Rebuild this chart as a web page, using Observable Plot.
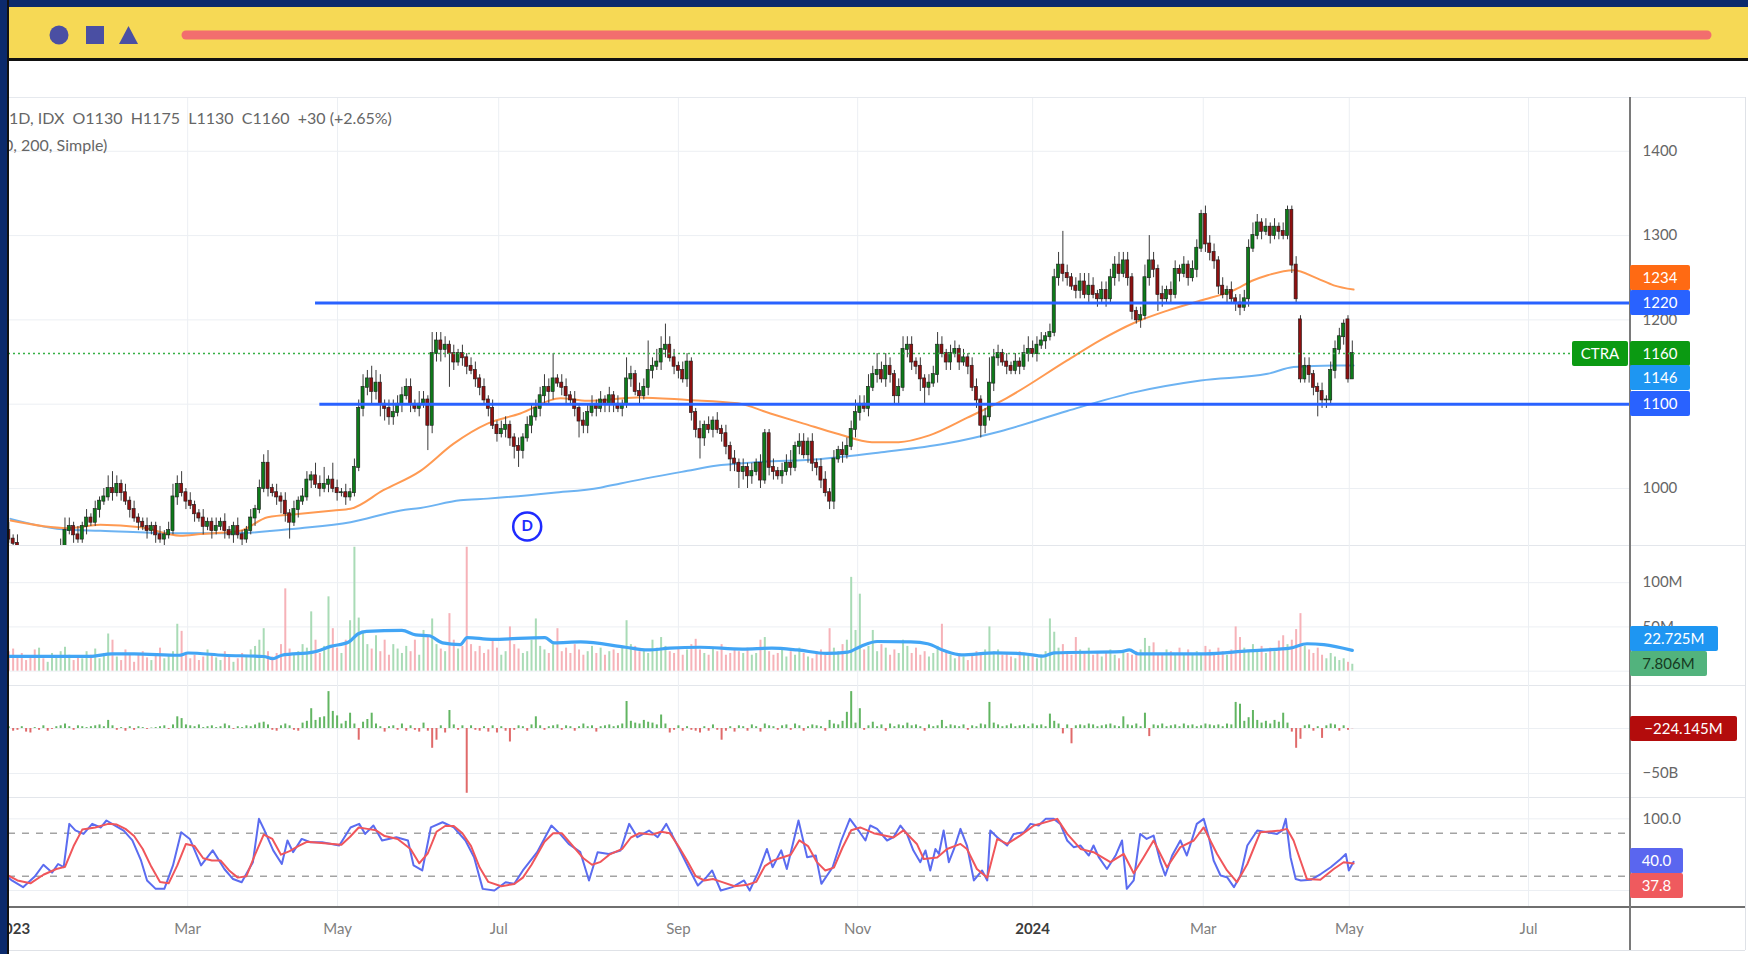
<!DOCTYPE html>
<html><head><meta charset="utf-8">
<script src="https://cdn.jsdelivr.net/npm/d3@7"></script>
<script src="https://cdn.jsdelivr.net/npm/@observablehq/plot@0.6"></script>
<style>
html,body{margin:0;padding:0}
body{width:1748px;height:954px;overflow:hidden;background:#0b2a6c;position:relative;font-family:Lato,"Open Sans",sans-serif}
#topbar{position:absolute;left:9px;top:7px;width:1739px;height:51px;background:#f6d955;border-bottom:3px solid #111}
#leftstrip{position:absolute;left:0;top:0;width:7px;height:954px;background:#0b2a6c;border-right:2px solid #111;z-index:20}
#chart{position:absolute;left:8px;top:61px;width:1740px;height:893px;background:#fff;overflow:hidden}
.hl{position:absolute;height:1px;background:#e9ecf1;left:0}
.tag{position:absolute;height:25px;line-height:25px;text-align:center;font-size:15px;border-radius:2px;color:#fff;z-index:5}
.hdr{position:absolute;white-space:pre;font-size:16px;color:#666}
</style></head>
<body>
<div id="topbar">
  <svg width="1739" height="51" style="position:absolute;left:0;top:0">
    <circle cx="50" cy="28" r="9.5" fill="#4a4fa3"/>
    <rect x="77" y="19" width="18" height="18" fill="#4a4fa3"/>
    <polygon points="110,37 129,37 119.5,19" fill="#4a4fa3"/>
    <line x1="177" y1="28" x2="1698" y2="28" stroke="#f26e6e" stroke-width="9" stroke-linecap="round"/>
  </svg>
</div>
<div id="leftstrip"></div>
<div id="chart"></div>
<script>
// ---------------- DATA (daily bars, Jan 2023 - May 2024, CTRA 1D IDX) ----------------
const close = [
950,940,935,925,915,910,905,900,905,900,
910,915,920,930,950,955,945,940,955,965,
960,975,985,990,1000,995,1005,995,985,975,
965,960,955,950,955,945,940,945,950,990,
1005,995,985,980,970,965,955,960,950,955,
960,950,945,955,945,940,950,965,975,1000,
1030,1000,995,990,985,970,960,975,985,990,
1010,1015,1005,1000,1005,1010,1000,995,995,990,
995,1025,1095,1120,1130,1115,1125,1100,1095,1085,
1090,1100,1110,1120,1100,1095,1100,1105,1075,1160,
1175,1165,1170,1160,1150,1160,1155,1145,1140,1130,
1120,1105,1095,1075,1065,1070,1075,1060,1050,1045,
1060,1075,1085,1095,1110,1120,1115,1130,1125,1120,
1110,1105,1095,1080,1075,1090,1100,1095,1105,1100,
1110,1100,1095,1100,1130,1135,1115,1110,1120,1140,
1145,1150,1165,1170,1155,1145,1140,1130,1150,1090,
1070,1060,1075,1070,1080,1070,1065,1050,1035,1030,
1020,1025,1015,1020,1030,1010,1065,1025,1020,1015,
1020,1030,1025,1050,1055,1040,1055,1030,1025,1010,
995,985,1035,1045,1040,1050,1070,1090,1100,1095,
1120,1135,1140,1130,1145,1135,1110,1120,1165,1170,
1150,1145,1130,1120,1125,1135,1170,1160,1150,1160,
1165,1150,1155,1145,1120,1105,1075,1085,1125,1155,
1160,1150,1145,1140,1150,1145,1160,1165,1160,1170,
1175,1180,1185,1250,1265,1255,1250,1240,1235,1245,
1230,1240,1230,1225,1235,1225,1250,1265,1255,1270,
1250,1210,1200,1205,1250,1270,1260,1230,1225,1235,
1230,1260,1255,1265,1250,1260,1285,1325,1290,1280,
1270,1240,1230,1235,1225,1220,1215,1225,1285,1300,
1315,1305,1310,1300,1310,1305,1300,1330,1265,1225,
1130,1145,1135,1120,1115,1105,1105,1140,1165,1180,
1195,1130,1160];
const open = [
960,950,940,935,925,915,910,905,900,905,
900,910,915,920,930,950,955,945,940,955,
965,960,975,985,990,1000,995,1005,995,985,
975,965,960,955,950,955,945,940,945,950,
990,1005,995,985,980,970,965,955,960,950,
955,960,950,945,955,945,940,950,965,975,
1000,1030,1000,995,990,985,970,960,975,985,
990,1010,1015,1005,1000,1005,1010,1000,995,995,
990,995,1025,1095,1120,1130,1115,1125,1100,1095,
1085,1090,1100,1110,1120,1100,1095,1100,1105,1075,
1160,1175,1165,1170,1160,1150,1160,1155,1145,1140,
1130,1120,1105,1095,1075,1065,1070,1075,1060,1050,
1045,1060,1075,1085,1095,1110,1120,1115,1130,1125,
1120,1110,1105,1095,1080,1075,1090,1100,1095,1105,
1100,1110,1100,1095,1100,1130,1135,1115,1110,1120,
1140,1145,1150,1165,1170,1155,1145,1140,1130,1150,
1090,1070,1060,1075,1070,1080,1070,1065,1050,1035,
1030,1020,1025,1015,1020,1030,1010,1065,1025,1020,
1015,1020,1030,1025,1050,1055,1040,1055,1030,1025,
1010,995,985,1035,1045,1040,1050,1070,1090,1100,
1095,1120,1135,1140,1130,1145,1135,1110,1120,1165,
1170,1150,1145,1130,1120,1125,1135,1170,1160,1150,
1160,1165,1150,1155,1145,1120,1105,1075,1085,1125,
1155,1160,1150,1145,1140,1150,1145,1160,1165,1160,
1170,1175,1180,1185,1250,1265,1255,1250,1240,1235,
1245,1230,1240,1230,1225,1235,1225,1250,1265,1255,
1270,1250,1210,1200,1205,1250,1270,1260,1230,1225,
1235,1230,1260,1255,1265,1250,1260,1285,1325,1290,
1280,1270,1240,1230,1235,1225,1220,1215,1225,1285,
1300,1315,1305,1310,1300,1310,1305,1300,1330,1265,
1200,1130,1145,1135,1120,1115,1105,1105,1140,1165,
1180,1200,1130];
const upWick = [
5,10,5,10,5,5,10,5,5,10, 5,10,5,10,15,10,5,10,5,10, 5,10,5,10,15,20,10,5,10,5,
10,5,5,10,5,5,10,5,10,15, 10,15,5,10,5,5,10,5,5,10, 5,10,5,5,10,5,5,10,5,10,
10,15,5,10,5,10,5,10,5,10, 10,5,15,10,20,5,20,10,5,10, 5,10,10,15,10,15,15,10,5,10,
15,10,10,10,10,5,15,10,5,25, 10,10,10,5,10,5,10,5,10,10, 5,10,5,10,5,10,10,5,5,10,
5,10,15,10,10,15,10,30,5,10, 10,5,10,5,10,10,10,5,10,5, 10,5,10,5,25,10,5,10,10,35,
10,15,15,25,10,10,5,10,10,5, 5,10,5,10,5,10,5,10,5,10, 5,10,5,10,5,10,5,5,10,5,
10,10,15,5,10,10,5,10,5,10, 10,5,10,5,10,10,10,15,10,10, 15,10,20,10,15,10,5,10,15,10,
10,5,10,5,10,10,15,10,5,10, 10,5,10,5,10,10,5,10,30,10, 10,5,10,5,10,5,10,15,10,10,
10,5,10,10,15,40,10,5,10,10, 10,15,10,5,10,10,10,10,15,10, 10,5,5,10,15,30,10,5,10,5,
10,10,5,10,5,10,10,5,10,10, 10,5,10,5,10,5,10,10,10,15, 10,5,10,5,10,5,10,5,5,10,
5,10,10,5,5,10,5,10,10,10, 5,5,15];
const lowWick = [
10,5,10,5,10,5,5,10,5,10, 5,5,10,5,10,5,10,5,5,10, 5,5,10,5,5,10,5,10,5,10,
5,10,5,10,5,10,5,10,5,5, 10,5,10,5,10,5,10,5,10,5, 5,10,5,10,5,10,5,5,10,5,
5,10,5,10,15,10,20,5,10,5, 5,10,5,10,5,10,5,10,5,10, 5,5,5,10,10,15,10,15,15,10,
10,5,10,5,10,5,10,5,30,10, 10,15,10,40,10,5,10,10,5,10, 10,5,10,5,10,5,10,10,15,20,
10,5,10,5,10,10,15,10,5,10, 10,5,10,20,10,10,5,10,5,10, 10,10,5,10,5,10,5,10,5,10,
10,5,10,10,5,10,10,5,10,10, 10,25,10,5,10,5,10,10,15,10, 20,10,15,10,5,10,5,10,10,5,
10,5,10,5,10,5,10,10,10,10, 5,10,10,5,10,5,5,10,10,5, 10,5,10,5,10,10,10,10,5,10,
10,10,15,20,10,5,10,5,10,10, 5,10,5,10,5,10,15,10,5,10, 10,5,10,5,5,10,5,10,5,10,
5,10,5,5,10,10,10,5,10,10, 5,10,5,10,5,10,5,10,10,5, 10,10,5,10,5,10,10,20,10,5,
10,5,10,5,10,5,10,5,10,10, 10,10,5,10,5,10,10,5,10,5, 5,10,5,10,5,10,5,5,10,5,
5,5,10,10,30,10,10,5,10,5, 10,5,0];
// volume in millions of shares
const volume = [
18,22,25,15,20,12,16,24,26,14, 10,20,15,22,27,18,12,16,14,22, 18,25,14,20,42,35,16,12,24,20,
10,18,22,15,12,20,26,14,18,22, 53,45,20,14,18,12,16,24,20,15, 12,22,18,10,14,20,16,24,28,35,
48,22,16,20,30,93,25,18,22,30, 26,67,35,20,28,84,48,26,20,35, 57,140,60,45,30,25,40,22,35,18,
30,25,20,28,22,35,18,46,40,59, 30,25,22,65,35,25,28,140,30,22, 28,20,24,35,26,18,22,50,30,25,
20,22,35,59,28,24,20,30,48,22, 26,20,30,24,18,22,28,20,26,18, 22,24,20,26,57,30,28,22,24,20,
35,26,38,28,22,20,26,18,24,30, 36,24,20,18,26,22,30,18,20,24, 22,20,26,18,20,35,38,22,18,20,
24,16,22,18,26,20,16,14,22,24, 18,48,26,22,30,35,106,46,87,24, 28,46,22,30,26,18,24,20,35,28,
20,26,18,22,16,20,28,53,22,18, 14,18,16,12,20,22,18,24,50,22, 24,18,20,16,14,22,18,20,16,14,
18,22,59,44,26,30,22,18,38,24, 20,26,18,22,16,20,24,18,14,22, 20,18,22,24,37,28,32,20,18,24,
22,18,26,20,24,18,22,20,28,24, 20,26,22,18,24,50,38,26,22,30, 24,28,20,26,22,34,40,30,35,47,
65,28,24,20,26,18,14,20,16,12, 14,10,7.8];
// money-flow histogram in billions
const flow = [
3,2,-3,-2,2,-4,-5,1,-2,3, -3,-1,2,3,5,2,-2,3,2,1, 2,3,4,2,9,3,-2,1,-3,2,
-2,2,1,-1,0.5,1,2,3,-1,4, 13,11,4,3,2,4,1,2,3,1, 2,5,3,-1,2,1,3,2,4,6,
7,4,-2,-3,3,5,3,-2,-3,6, 8,22,9,12,13,41,19,14,5,8, 17,5,-13,7,10,17,5,2,-4,2,
3,-2,5,-3,3,-2,-4,6,-3,-22, -13,3,-5,20,4,-2,3,-72,3,-2, -3,2,-4,3,-5,2,-3,-15,-2,3,
2,-3,4,13,3,-2,2,3,4,-2, 3,2,-3,2,5,2,3,-4,2,3, 4,2,3,5,30,8,6,5,9,7,
6,4,15,5,-5,-2,3,-3,2,-2, -3,-5,2,-3,4,-2,-13,-3,2,-4, 3,2,-3,4,2,-4,5,3,2,-2,
3,4,-2,5,3,-3,2,4,3,2, -3,9,5,4,8,18,41,6,22,-2, 3,7,2,4,-3,5,2,4,3,6,
3,4,2,-3,4,2,3,9,2,4, 3,2,4,-2,3,2,5,4,29,6, 4,2,3,5,2,3,4,2,5,3,
4,2,16,8,5,-6,4,-17,3,4, 3,5,4,2,3,4,5,3,2,13, 4,3,5,2,17,-9,4,3,5,2,
3,4,2,5,3,4,2,3,5,4, 3,4,2,5,4,29,27,8,12,20, 9,6,8,5,9,7,17,6,-4,-22,
-12,3,4,-3,2,-11,3,5,4,-3, 3,-2,-0.22];
// moving averages (day index, value)
const ma50Day = [1.4,14.6,22.2,31.5,40.7,45.4,54.6,60.9,68.5,76.2,80.1,87.7,96.3,103.9,111.8,119.4,128.7,134.9,146.5,158.1,169.7,177.3,185,192.8,200.8,207,214.1,222.9,231.9,246,253.7,261.3,269.2,276.9,284.5,289.1,292.4,298.4,304,307.7,312.3];
const ma50Val = [962,953,957,954,944,946,950,966,970,974,976,998,1021,1053,1077,1089,1107,1104,1108,1105,1101,1089,1077,1065,1055,1055,1063,1084,1107,1152,1176,1196,1211,1223,1235,1247,1253,1259,1249,1241,1236];
const ma200Day = [1.4,14.6,22.2,37.7,53,68.5,80.1,91.7,96.3,105.5,111.8,127.1,137.9,142.6,158.1,164.6,173.4,189,203,217.6,230.6,246,261.5,276.9,292.4,298.4,307.7,312.3];
const ma200Val = [964,951,950,947,947,953,960,974,977,986,988,995,1001,1006,1021,1027,1031,1035,1043,1053,1068,1092,1114,1128,1136,1144,1146,1146];
const volMaDay = [-1,19.7,24.9,30,40.4,42.5,50.8,60,62.1,64.2,71.4,75.5,79.7,81.8,83.8,92,95.2,98.3,101.4,105.5,107.1,112.7,125.1,127.2,133.4,143.8,148.9,154,161,170.8,177.6,183.5,190.3,195.2,198.2,202,209.8,213.7,217.6,221.5,229.3,236,240.4,243,258.5,260.4,262.4,278,287.8,297.6,301.5,305.4,312];
const volMaVal = [16.6,16.6,19.6,19.6,18,20.5,18,16.6,14,18,21.5,28,33,42,45,46,41,40,32,30,38,36,38,32,33,27,24,26,27,25,26,24,20,21.5,28,33.5,33,31,23,18.5,20.7,19.6,17,20.7,22,24,19.6,19.6,23,26,31,30,23.5];
// stochastic %K and %D (day index, value)
const kDay = [0.5,1.7,4.3,7,9,11,12.4,13.7,15,16.4,18.3,20.3,22.3,23.6,25.6,27.6,29.6,31.6,33,35,37,39,40.9,42.9,45.5,48.2,50.9,52.9,54.9,57.5,58.9,60.2,62.2,64.2,65.5,66.8,68.8,70.8,73.5,77.5,80.1,82.1,83.5,85.4,87.4,90.7,93.4,94.7,96.7,98.7,101.4,104,106.7,108.7,110.7,113.4,116,118,120,123.3,126.6,128.6,130.6,133.3,135.3,137.3,139.9,142.6,144.6,146.5,149.2,151.2,153.2,155.2,158.5,160.5,162.5,163.8,165.8,168.5,171.2,172.5,174.5,176.5,177.8,179.8,181.1,183.8,185.8,187.8,189.1,191.7,193.7,195.7,197.7,199.3,200.4,202,204.3,205.8,207.4,208.9,210.4,212,213.2,214.3,215.5,216.3,217.4,218.6,219.8,221.3,222.8,224.4,226.3,227.5,228.2,229.8,232.1,233.6,236,237.5,239.4,241,242.9,244.4,246,247.5,249.1,251,252.1,253.3,255.2,257.2,258.7,259.8,261.4,262.9,264.4,266,267.6,268.7,270.3,272.2,273.7,275.3,276,277.6,278.8,279.9,281.5,283,284.6,286.1,287.7,290,292.3,294.6,295.8,296.6,297.7,298.9,300.1,302.4,304.7,307,309.3,310.5,311.2,312.3];
const kVal = [20,14,4.7,19.5,36,25,37,32.5,93,84,79,93,88,97.7,90.7,83.7,70,42,14,2.3,2.3,35,81.4,72,35,56,30,16,11.6,39.5,100,83.7,56,37,69.8,53.5,72,67.4,67.4,62.8,88,93,79,90.7,69.8,74.4,69.8,35,28,88,95.3,88,69.8,46.5,2.3,0,11.6,9.3,28,53.5,90.7,79,65,53.5,14,53.5,51,55.8,93,74.4,83.7,74.4,93,69.8,30,7,18.6,28,0,4.7,14,0,25.6,58,32.5,56,30,97.7,46.5,49,9.3,32.5,69.8,100,83.7,69.8,90.7,86,69.8,74.4,90.7,79,55.8,39.5,55.8,28,58,51,83.7,39.5,58,86,62.8,14,28,14,83.7,74.4,62.8,79,81.4,93,90.7,100,100,93,69.8,60.5,62.8,48.8,62.8,46.5,30,48.8,69.8,2.3,14,79,72,76.7,39.5,21,48.8,69.8,48.8,79,93,100,74.4,41.9,21,18.6,4.7,21,62.8,83.7,81.4,79,83.7,100,46.5,16,14,15,23,32.5,44,51,28,40];
const dDay = [0.5,3,6,9,12,14,16,18,21,24,26,28,30,32,34,36,38,40,42,44,46,48,50,52,54,56,58,60,62,64,66,68,70,74,78,80,82,84,86,88,91,94,96,98,100,102,104,106,108,110,112,115,118,120,122,125,127,129,131,134,136,138,140,143,145,147,150,152,154,156,158,160,162,164,166,169,172,174,176,178,180,182,184,186,188,190,192,194,196,198.1,201.2,205.8,208.1,211.2,212.8,215.9,218.2,221.3,222.8,225.1,227.5,229.8,232.1,235.2,238.3,243.7,246,249.1,252.1,256,259.1,261.4,263.7,266,269.1,272.2,275.3,277.6,280.7,283,285.3,287.7,290.7,295.3,296.9,298.4,300,301.5,304.6,307.7,310,312.3];
const dVal = [22,14,10,22,30,33,62,85,88,93,92,86,76,58,33,12,10,35,65,62,45,42,42,28,18,20,50,78,72,50,55,62,68,66,64,75,88,86,84,76,72,58,38,52,82,90,90,80,62,32,12,6,9,18,36,68,80,80,66,45,36,40,50,58,74,80,78,82,80,62,42,20,14,16,12,6,8,12,34,42,46,50,70,62,40,28,32,60,84,88,80,74,84,65,44,46,58,65,58,30,18,72,65,77,90.7,100,79,58,53.5,39.5,51,24,46.5,69.8,32.5,60.5,69.8,88,51,28,11.6,37,81.4,83.7,86,69.8,41.9,16,15,30,39.5,37.8];
// reference levels, dividend mark and axis ticks
const levelPrice = [1220, 1100];
const levelStartDay = [72, 73];
const lastPrice = 1160;
const dividendDay = 121, dividendPrice = 955;
const priceTicks = [1000, 1100, 1200, 1300, 1400];
const volTicks = [100, 50], volTickLabels = ["100M", "50M"];
const flowTicks = [-50], flowTickLabels = ["\u221250B"];
const stochTicks = [100], stochTickLabels = ["100.0"];
const stochBands = [80, 20];
const monthTickDays = [1.9, 42.4, 77.1, 114.4, 156, 197.5, 238, 277.5, 311.3, 352.8];
const monthTickLabels = ["2023", "Mar", "May", "Jul", "Sep", "Nov", "2024", "Mar", "May", "Jul"];
const yearTick = [true, false, false, false, false, false, true, false, false, false];

// ---------------- BUILD ----------------
const W = 1740, MR = 118;
const xDomain = [0.926, 376.4];
const chart = document.getElementById("chart");
const candles = close.map((c, i) => ({
  d: i, o: open[i], c,
  h: Math.max(open[i], c) + upWick[i],
  l: Math.min(open[i], c) - lowWick[i],
  up: c >= open[i]
}));
const volRows = volume.map((v, i) => ({d: i, v, up: candles[i].up}));
const flowRows = flow.map((v, i) => ({d: i, v}));
const ma50 = ma50Day.map((d, i) => ({d, v: ma50Val[i]}));
const ma200 = ma200Day.map((d, i) => ({d, v: ma200Val[i]}));
const volMa = volMaDay.map((d, i) => ({d, v: volMaVal[i]}));
const kRows = kDay.map((d, i) => ({d, v: kVal[i]}));
const dRows = dDay.map((d, i) => ({d, v: dVal[i]}));
const gridDays = monthTickDays.filter((d, i) => i > 0);
const GRID = "#eceff3";

function panel(height, yDomain, marks) {
  return Plot.plot({
    width: W, height, marginTop: 0, marginBottom: 0, marginLeft: 0, marginRight: MR,
    x: {domain: xDomain, axis: null},
    y: {domain: yDomain, axis: null},
    color: {type: "identity"},
    style: {overflow: "visible", background: "transparent", fontFamily: "Lato, sans-serif", fontSize: "15px"},
    marks
  });
}
function place(svg, top) {
  svg.style.position = "absolute"; svg.style.left = "0px"; svg.style.top = top + "px";
  chart.appendChild(svg);
}
function axisText(values, labels) {
  return Plot.text(values, {y: d => d, text: (d, i) => labels[i], frameAnchor: "right", dx: 12, textAnchor: "start", fill: "#666", fontSize: 15});
}
function tag(top, scale, value, text, bg, color, width, offset, left) {
  const el = document.createElement("div");
  el.className = "tag";
  el.textContent = text;
  el.style.background = bg; el.style.color = color;
  el.style.width = width + "px";
  el.style.left = (left ?? 1622) + "px";
  el.style.top = (top + scale.apply(value) - 12.5 + offset) + "px";
  chart.appendChild(el);
}

// panel tops (relative to chart div)
const T_PRICE = 37, T_VOL = 484, T_FLOW = 624, T_STOCH = 736, T_AXIS = 846;

// decorative separators
[[36, "#e6e9ee"], [484, "#e3e6eb"], [624, "#e3e6eb"], [736, "#e3e6eb"], [889, "#dfe2e7"]].forEach(([y, c]) => {
  const l = document.createElement("div"); l.className = "hl"; l.style.top = y + "px"; l.style.width = "1737px"; l.style.background = c; chart.appendChild(l);
});
{
  const ax = document.createElement("div");
  ax.style.cssText = "position:absolute;left:0;top:845px;width:1737px;height:2px;background:#6f6f6f;z-index:3";
  chart.appendChild(ax);
  const ay = document.createElement("div");
  ay.style.cssText = "position:absolute;left:1621px;top:36px;width:2px;height:853px;background:#7a7a7a;z-index:3";
  chart.appendChild(ay);
  const rb = document.createElement("div");
  rb.style.cssText = "position:absolute;left:1737px;top:36px;width:1px;height:853px;background:#dfe2e7";
  chart.appendChild(rb);
}

// ---- price panel ----
const pricePlot = panel(447, [932.4, 1462.6], [
  Plot.ruleY(priceTicks, {stroke: GRID}),
  Plot.ruleX(gridDays, {stroke: GRID}),
  Plot.line(ma200, {x: "d", y: "v", stroke: "#6db3f2", strokeWidth: 2, curve: "monotone-x", clip: true}),
  Plot.line(ma50, {x: "d", y: "v", stroke: "#ff9a52", strokeWidth: 2, curve: "monotone-x", clip: true}),
  Plot.ruleX(candles, {x: "d", y1: "l", y2: "h", stroke: "#3a3a3a", strokeWidth: 1, clip: true}),
  Plot.rect(candles, {x1: d => d.d - 0.36, x2: d => d.d + 0.36, y1: "o", y2: "c",
    fill: d => d.up ? "#0d7a19" : "#8e1010", stroke: "#1a1a1a", strokeWidth: 0.6,
    insetTop: -0.5, insetBottom: -0.5, clip: true}),
  Plot.ruleY(levelPrice, {y: d => d, x1: (d, i) => levelStartDay[i], x2: () => xDomain[1], stroke: "#2962ff", strokeWidth: 3}),
  Plot.ruleY([lastPrice], {y: d => d, x1: () => xDomain[0], x2: () => 363, stroke: "#34b044", strokeWidth: 1.5, strokeDasharray: "2,3"}),
  Plot.dot([{d: dividendDay, p: dividendPrice}], {x: "d", y: "p", r: 14, stroke: "#1f2bff", strokeWidth: 2.5, fill: "#fff"}),
  Plot.text([{d: dividendDay, p: dividendPrice}], {x: "d", y: "p", text: () => "D", fill: "#1f2bff", fontSize: 15, fontWeight: "bold"}),
  axisText(priceTicks, priceTicks.map(String))
]);
place(pricePlot, T_PRICE);

// ---- volume panel ----
const volPlot = panel(140, [-16.2, 142], [
  Plot.ruleY(volTicks.concat([0]), {stroke: GRID}),
  Plot.ruleX(gridDays, {stroke: GRID}),
  Plot.ruleX(volRows, {x: "d", y1: () => 0, y2: "v", stroke: d => d.up ? "#a9dbb6" : "#f6b2b8", strokeWidth: 2, clip: true}),
  Plot.line(volMa, {x: "d", y: "v", stroke: "#42a5f5", strokeWidth: 3.2, curve: "monotone-x", clip: true}),
  axisText(volTicks, volTickLabels)
]);
place(volPlot, T_VOL);

// ---- flow panel ----
const flowPlot = panel(112, [-76.7, 47.8], [
  Plot.ruleY([0].concat(flowTicks), {stroke: GRID}),
  Plot.ruleX(gridDays, {stroke: GRID}),
  Plot.ruleX(flowRows, {x: "d", y1: () => 0, y2: "v", stroke: d => d.v >= 0 ? "#62b562" : "#e06a6a", strokeWidth: 2, clip: true}),
  axisText(flowTicks, flowTickLabels)
]);
place(flowPlot, T_FLOW);

// ---- stochastic panel ----
const stochPlot = panel(110, [-23.7, 129.8], [
  Plot.ruleY([100, 0], {stroke: GRID}),
  Plot.ruleX(gridDays, {stroke: GRID}),
  Plot.ruleY(stochBands, {stroke: "#a3a3a3", strokeWidth: 1.6, strokeDasharray: "7,7"}),
  Plot.line(kRows, {x: "d", y: "v", stroke: "#5b6cf0", strokeWidth: 2, clip: true}),
  Plot.line(dRows, {x: "d", y: "v", stroke: "#f0565b", strokeWidth: 2, clip: true}),
  axisText(stochTicks, stochTickLabels)
]);
place(stochPlot, T_STOCH);

// ---- time axis ----
const idx = monthTickDays.map((d, i) => i);
const axisPlot = Plot.plot({
  width: W, height: 43, marginTop: 0, marginBottom: 0, marginLeft: 0, marginRight: MR,
  x: {domain: xDomain, axis: null},
  style: {overflow: "visible", background: "transparent", fontFamily: "Lato, sans-serif", fontSize: "15px"},
  marks: [
    Plot.text(idx.filter(i => !yearTick[i]), {x: i => monthTickDays[i], text: i => monthTickLabels[i], frameAnchor: "middle", fill: "#808080", fontSize: 15}),
    Plot.text(idx.filter(i => yearTick[i]), {x: i => monthTickDays[i], text: i => monthTickLabels[i], frameAnchor: "middle", fill: "#3c3c3c", fontSize: 15, fontWeight: "bold"})
  ]
});
place(axisPlot, T_AXIS);

// ---- header texts ----
const h1 = document.createElement("div"); h1.className = "hdr";
h1.style.left = "1px"; h1.style.top = "47px";
h1.textContent = "1D, IDX  O1130  H1175  L1130  C1160  +30 (+2.65%)";
chart.appendChild(h1);
const h2 = document.createElement("div"); h2.className = "hdr";
h2.style.left = "-4px"; h2.style.top = "74px";
h2.textContent = "0, 200, Simple)";
chart.appendChild(h2);

// ---- value tags (positioned with the plots' y scales) ----
const py = pricePlot.scale("y");
tag(T_PRICE, py, 1234, "1234", "#ff6a13", "#fff", 60, -13.5);
tag(T_PRICE, py, 1220, "1220", "#2962ff", "#fff", 60, 0);
tag(T_PRICE, py, 1160, "CTRA", "#0b9a12", "#fff", 56, 0, 1564);
tag(T_PRICE, py, 1160, "1160", "#0b9a12", "#fff", 60, 0);
tag(T_PRICE, py, 1146, "1146", "#1e96f2", "#fff", 60, 12.5);
tag(T_PRICE, py, 1100, "1100", "#2962ff", "#fff", 60, 0);
const vy = volPlot.scale("y");
tag(T_VOL, vy, 22.725, "22.725M", "#1e96f2", "#fff", 88, -11.6);
tag(T_VOL, vy, 7.806, "7.806M", "#52b37d", "#163a21", 77, 0);
const fy = flowPlot.scale("y");
tag(T_FLOW, fy, -0.224, "\u2212224.145M", "#b30c0c", "#fff", 107, 0);
const sy = stochPlot.scale("y");
tag(T_STOCH, sy, 40.0, "40.0", "#5a66ef", "#fff", 53, -1.3);
tag(T_STOCH, sy, 37.8, "37.8", "#ef5a5e", "#fff", 53, 22.6);
</script>
</body></html>
